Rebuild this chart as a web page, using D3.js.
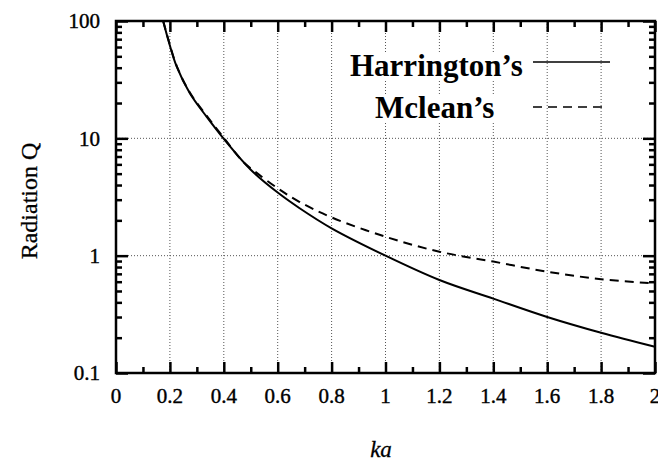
<!DOCTYPE html>
<html>
<head>
<meta charset="utf-8">
<script src="https://cdn.jsdelivr.net/npm/d3@7"></script>
<style>
  body { margin: 0; background: #fff; }
  svg text { font-family: "Liberation Serif", "Times New Roman", serif; fill: #000; }
  .tk line { stroke: #000; stroke-width: 2.5px; }
  .tk path { display: none; }
</style>
</head>
<body>
<div id="chart"></div>
<script>
// values
const harringtonKa = [0.175, 0.194, 0.225, 0.274, 0.336, 0.4, 0.5, 0.6, 0.68, 0.8, 1.0, 1.2, 1.4, 1.6, 1.8, 2.0];
const harringtonQ  = [100, 69, 41, 24.2, 15.3, 9.9, 5.4, 3.45, 2.55, 1.71, 1.0, 0.62, 0.43, 0.30, 0.22, 0.167];
const mcleanKa = [0.175, 0.194, 0.225, 0.274, 0.336, 0.4, 0.472, 0.516, 0.6, 0.68, 0.8, 1.0, 1.2, 1.4, 1.6, 1.8, 2.0];
const mcleanQ  = [100, 70, 41.5, 24.6, 15.6, 10.1, 6.3, 5.2, 3.75, 2.88, 2.12, 1.45, 1.08, 0.89, 0.73, 0.63, 0.58];
const xTicks = [0, 0.2, 0.4, 0.6, 0.8, 1, 1.2, 1.4, 1.6, 1.8, 2];
const yTicks = [0.1, 1, 10, 100];
const legendNames = ["Harrington\u2019s", "Mclean\u2019s"];

const W = 658, H = 461;
const margin = { top: 21, right: 3, bottom: 88, left: 116 };
const width = W - margin.left - margin.right;
const height = H - margin.top - margin.bottom;

const svg = d3.select("#chart").append("svg")
  .attr("width", W).attr("height", H);

const g = svg.append("g")
  .attr("transform", "translate(" + margin.left + "," + margin.top + ")");

const x = d3.scaleLinear().domain([0, 2]).range([0, width]);
const y = d3.scaleLog().domain([0.1, 100]).range([height, 0]);

// dotted grid
g.selectAll(".gx").data(xTicks.filter(d => d > 0 && d < 2)).enter().append("line")
  .attr("x1", d => x(d)).attr("x2", d => x(d))
  .attr("y1", 0).attr("y2", height)
  .attr("stroke", "#555").attr("stroke-width", 1).attr("stroke-dasharray", "1,2");
g.selectAll(".gy").data(yTicks.filter(d => d > 0.1 && d < 100)).enter().append("line")
  .attr("x1", 0).attr("x2", width)
  .attr("y1", d => y(d)).attr("y2", d => y(d))
  .attr("stroke", "#555").attr("stroke-width", 1).attr("stroke-dasharray", "1,2");

// inward ticks on all four sides, major and minor
const xMinor = d3.range(1, 20, 2).map(i => i / 10);
const yMinor = [];
[0.1, 1, 10].forEach(b => { for (let k = 2; k <= 9; k++) yMinor.push(b * k); });

function addAxis(axis, vals, size, tx, ty) {
  g.append("g").attr("class", "tk")
    .attr("transform", "translate(" + tx + "," + ty + ")")
    .call(axis.tickValues(vals).tickSizeInner(-size).tickSizeOuter(0).tickFormat(""));
}
addAxis(d3.axisBottom(x), xTicks, 11, 0, height);
addAxis(d3.axisBottom(x), xMinor, 6, 0, height);
addAxis(d3.axisTop(x), xTicks, 11, 0, 0);
addAxis(d3.axisTop(x), xMinor, 6, 0, 0);
addAxis(d3.axisLeft(y), yTicks, 12, 0, 0);
addAxis(d3.axisLeft(y), yMinor, 6, 0, 0);
addAxis(d3.axisRight(y), yTicks, 12, width, 0);
addAxis(d3.axisRight(y), yMinor, 6, width, 0);

// tick labels
g.selectAll(".xl").data(xTicks).enter().append("text")
  .attr("x", d => x(d)).attr("y", height + 30)
  .attr("text-anchor", "middle").style("font-size", "21px")
  .style("stroke", "#000").style("stroke-width", "0.4px")
  .text(d => d3.format("~g")(d));
g.selectAll(".yl").data(yTicks).enter().append("text")
  .attr("x", -16).attr("y", d => y(d)).attr("dy", "0.35em")
  .attr("text-anchor", "end").style("font-size", "21px")
  .style("stroke", "#000").style("stroke-width", "0.4px")
  .text(d => d3.format("~g")(d));

// axis titles
svg.append("text")
  .attr("transform", "translate(37,201) rotate(-90)")
  .attr("text-anchor", "middle").style("font-size", "24px")
  .style("stroke", "#000").style("stroke-width", "0.3px")
  .text("Radiation Q");
svg.append("text")
  .attr("x", 381).attr("y", 457)
  .attr("text-anchor", "middle").style("font-size", "23px").style("font-style", "italic")
  .style("stroke", "#000").style("stroke-width", "0.3px")
  .text("ka");

// curves
g.append("clipPath").attr("id", "clip").append("rect")
  .attr("width", width).attr("height", height);

const line = d3.line().x(d => x(d[0])).y(d => y(d[1])).curve(d3.curveCatmullRom.alpha(0.5));
const curves = g.append("g").attr("clip-path", "url(#clip)");

curves.append("path")
  .datum(mcleanKa.map((k, i) => [k, mcleanQ[i]]))
  .attr("d", line).attr("fill", "none")
  .attr("stroke", "#000").attr("stroke-width", 2).attr("stroke-dasharray", "9,6");
curves.append("path")
  .datum(harringtonKa.map((k, i) => [k, harringtonQ[i]]))
  .attr("d", line).attr("fill", "none")
  .attr("stroke", "#000").attr("stroke-width", 2);

// frame
g.append("rect").attr("width", width).attr("height", height)
  .attr("fill", "none").attr("stroke", "#000").attr("stroke-width", 2.5);

// legend
const legend = [
  { name: legendNames[0], tx: 350, ty: 76, ly: 62, x2: 610, dash: null },
  { name: legendNames[1], tx: 375, ty: 118, ly: 107, x2: 603, dash: "9,6" }
];
legend.forEach(l => {
  const lg = svg.append("g");
  const bg = lg.append("rect").attr("fill", "#fff");
  const t = lg.append("text")
    .attr("x", l.tx).attr("y", l.ty)
    .style("font-size", "31px").style("font-weight", "bold")
    .text(l.name);
  const bb = t.node().getBBox();
  bg.attr("x", bb.x - 2).attr("y", bb.y + 4)
    .attr("width", bb.width + 4).attr("height", bb.height - 6);
  lg.append("line")
    .attr("x1", 533).attr("x2", l.x2).attr("y1", l.ly).attr("y2", l.ly)
    .attr("stroke", "#000").attr("stroke-width", 1.5)
    .attr("stroke-dasharray", l.dash);
});
</script>
</body>
</html>
